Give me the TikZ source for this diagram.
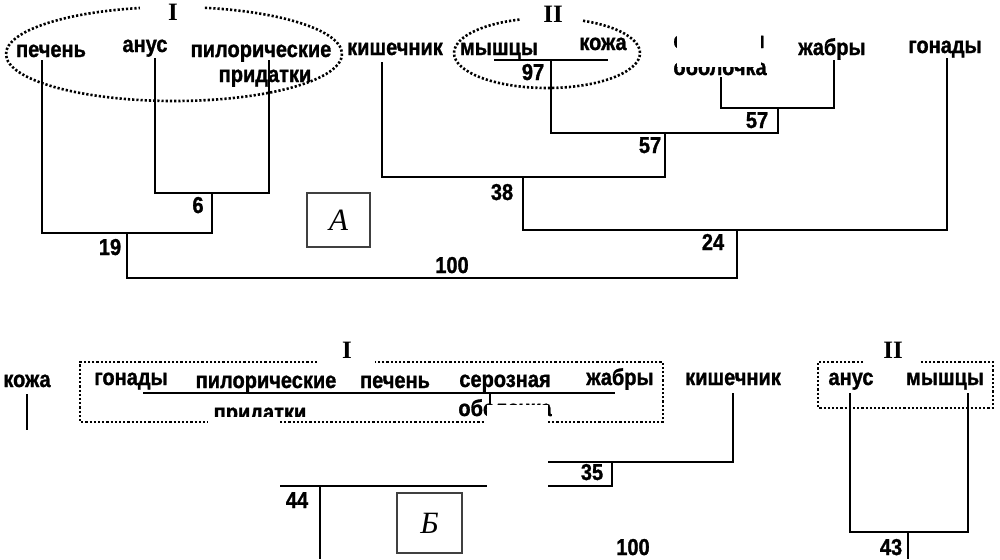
\documentclass[tikz,border=0pt]{standalone}
\usepackage{fontspec}
\setmainfont{Liberation Sans}
\newfontfamily\lblfont{Liberation Sans}[FakeStretch=0.87, BoldFeatures={FakeStretch=0.87, FakeBold=1.2}]
\newfontfamily\serifrm{Liberation Serif}
\begin{document}
\begin{tikzpicture}[x=0.5pt,y=-0.5pt,
  lbl/.style={font=\lblfont\bfseries\fontsize{11.5}{13}\selectfont, inner sep=0pt, anchor=base},
  num/.style={font=\lblfont\bfseries\fontsize{11.5}{13}\selectfont, inner sep=0pt, anchor=base},
  roman/.style={font=\serifrm\bfseries\fontsize{12.5}{14}\selectfont, inner sep=0pt, anchor=base},
  tagbox/.style={draw=black!75, line width=0.7pt, font=\serifrm\itshape\fontsize{15.5}{17}\selectfont, inner sep=0pt},
  br/.style={line width=1.05pt, black},
  grp/.style={line width=1.3pt, dash pattern=on 1.1pt off 1.0pt},
  patch/.style={fill=white, draw=none}]
\useasboundingbox (0,0) rectangle (1000,559);

% ================= A =================
\node[lbl] (pech) at (51,57) {печень};
\node[lbl] (anus) at (145,52) {анус};
\node[lbl] (pil)  at (261,57) {пилорические};
\node[lbl] (prid) at (265,82) {придатки};
\node[lbl] (kish) at (395,55) {кишечник};
\node[lbl] (mysh) at (499,55) {мышцы};
\node[lbl] (koz)  at (603,50) {кожа};
\node[lbl] (ser)  at (719,48) {серозная};
\node[lbl] (obo)  at (720,75) {оболочка};
\node[lbl] (zhab) at (832,55) {жабры};
\node[lbl] (gon)  at (945,53) {гонады};

\coordinate (tPech) at (42,60);
\coordinate (tAnus) at (155,58);
\coordinate (tPil)  at (269,60);
\coordinate (tKish) at (382,62);
\coordinate (tMysh) at (494,60);
\coordinate (tKoz)  at (608,60);
\coordinate (tObo)  at (721,77);
\coordinate (tZhab) at (834,60);
\coordinate (tGon)  at (947,58);

\coordinate (j6)   at (212,193);
\coordinate (j19)  at (127,233);
\coordinate (j97)  at (551,60);
\coordinate (j57R) at (778,108);
\coordinate (j57L) at (665,133);
\coordinate (j38)  at (523,177);
\coordinate (j24)  at (737,230);
\coordinate (j100) at (450,278);

\draw[br] (tAnus) |- (j6) -| (tPil);
\draw[br] (tPech) |- (j19) -| (j6);
\draw[br] (tMysh) -- (tKoz);
\draw[br] (tObo) |- (j57R) -| (tZhab);
\draw[br] (j97) |- (j57L) -| (j57R);
\draw[br] (tKish) |- (j38) -| (j57L);
\draw[br] (j38) |- (j24) -| (tGon);
\draw[br] (j19) |- (j100) -| (j24);

\node[num] (n6)   at (198,213) {6};
\node[num] (n19)  at (110,255) {19};
\node[num] (n100) at (452,273) {100};
\node[num] (n24)  at (713,250) {24};
\node[num] (n38)  at (502,200) {38};
\node[num] (n57a) at (650,153) {57};
\node[num] (n57b) at (757,128) {57};
\node[num] (n97)  at (533,80) {97};

\draw[grp] (174,54) ++(280.6:168 and 47) arc[start angle=280.6, end angle=618.3, x radius=168, y radius=47];
\node[roman] (rI) at (173,20) {I};
\draw[grp] (547,53) ++(292.8:93 and 35) arc[start angle=292.8, end angle=613.1, x radius=93, y radius=35];
\node[roman] (rII) at (553,22) {II};

\node[tagbox, minimum width=31.5pt, minimum height=27pt] (boxA) at (338.5,220) {A};

\fill[patch] (677,30) rectangle (761,67);

% ================= Б =================
\node[lbl] (bKoz)  at (27,387) {кожа};
\node[lbl] (bGon)  at (131,385) {гонады};
\node[lbl] (bPil)  at (266,388) {пилорические};
\node[lbl] (bPrid) at (260,420) {придатки};
\node[lbl] (bPech) at (395,388) {печень};
\node[lbl] (bSer)  at (505,387) {серозная};
\node[lbl] (bObo)  at (505,416) {оболочка};
\node[lbl] (bZhab) at (620,385) {жабры};
\node[lbl] (bKish) at (733,385) {кишечник};
\node[lbl] (bAnus) at (851,385) {анус};
\node[lbl] (bMysh) at (945,385) {мышцы};

\coordinate (bKozT) at (27,394);
\coordinate (bKozB) at (27,430);
\coordinate (cL) at (143,393);
\coordinate (cR) at (615,393);
\coordinate (tick1) at (490,393);
\coordinate (tick2) at (490,405);
\coordinate (tBKish) at (733,393);
\coordinate (e35) at (548,462);
\coordinate (j35) at (612,462);
\coordinate (e44) at (280,486);
\coordinate (j44) at (320,486);
\coordinate (j44b) at (320,559);
\coordinate (tBAnus) at (850,393);
\coordinate (tBMysh) at (968,393);
\coordinate (j43) at (908,532);
\coordinate (j43b) at (908,559);

\draw[br] (bKozT) -- (bKozB);
\draw[br] (cL) -- (cR);
\draw[br] (tick1) -- (tick2);
\draw[br] (tBKish) |- (e35);
\draw[br] (j35) |- (e44);
\draw[br] (j44) -- (j44b);
\draw[br] (tBAnus) |- (j43) -| (tBMysh);
\draw[br] (j43) -- (j43b);

\node[num] (n44)  at (297,508) {44};
\node[num] (n35)  at (592,480) {35};
\node[num] (n100b) at (633,555) {100};
\node[num] (n43)  at (891,555) {43};

\node[tagbox, minimum width=32.5pt, minimum height=30pt] (boxB) at (429.5,523) {Б};

\fill[patch] (487,405) rectangle (548,559);
\fill[patch] (205,417) rectangle (312,430);

\draw[grp] (317,362) -- (80,362) -- (80,422) -- (208,422);
\draw[grp] (280,422) -- (485,422);
\draw[grp] (548,422) -- (663,422) -- (663,362) -- (375,362);
\node[roman] (bI) at (347,358) {I};

\draw[grp] (863,362) -- (818,362) -- (818,408) -- (993,408) -- (993,362) -- (920,362);
\node[roman] (bII) at (893,358) {II};
\end{tikzpicture}
\end{document}
